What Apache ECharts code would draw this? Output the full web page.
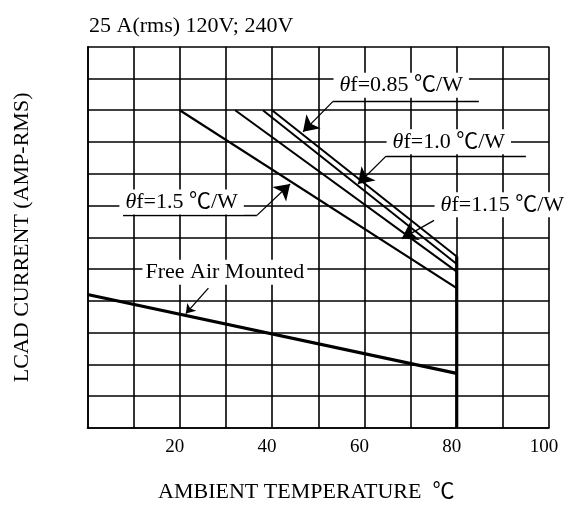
<!DOCTYPE html>
<html><head><meta charset="utf-8">
<script src="https://cdn.jsdelivr.net/npm/echarts@6/dist/echarts.min.js"></script>
<style>html,body{margin:0;padding:0;background:#fff}#c{width:576px;height:508px}</style>
</head><body><div id="c"></div>
<script>
// ---- data ----
const titleText = '25 A(rms) 120V; 240V';
const xName = 'AMBIENT TEMPERATURE  \u2103';
const yName = 'LCAD CURRENT (AMP-RMS)';
const xTicks = [20, 40, 60, 80, 100];
const curve085 = [[40, 25], [80, 13.5]];
const curve100 = [[38, 25], [80, 12.9]];
const curve115 = [[32, 25], [80, 12.3]];
const curve150 = [[20, 25], [80, 11.0]];
const freeAir  = [[0, 10.5], [80, 4.3]];
const cutoff   = [[80, 13.5], [80, 0]];

// annotations (data units)
const annTexts   = ['0.85', '1.0', '1.15', '1.5'];
const annAnchors = [[53.2, 26.97], [64.7, 22.52], [75.1, 17.56], [6.8, 17.78]];
const annUnder   = [[[53.2, 25.7], [84.8, 25.7]], [[64.7, 21.39], [95.0, 21.39]], [[75.1, 16.34], [106, 16.34]], [[7.7, 16.73], [36.7, 16.73]]];
const annLeader  = [[[53.2, 25.7], [46.7, 23.3]], [[64.7, 21.39], [58.6, 19.2]], [[75.1, 16.34], [68.1, 14.9]], [[36.7, 16.73], [43.9, 19.2]]];
const freeText   = 'Free Air Mounted';
const freeAnchor = [11.8, 12.26];
const freeLeader = [[26.2, 11.0], [21.3, 9.0]];

// ---- chart ----
const FONT = '"Liberation Serif", "Times New Roman", "Noto Sans CJK SC", serif';
const chart = echarts.init(document.getElementById('c'), null, {renderer: 'canvas'});

function curve(d, w) {
  return {type: 'line', data: d, symbol: 'none', silent: true, animation: false,
    lineStyle: {color: '#000', width: w}, z: 3};
}

const markPts = annTexts.map((t, i) => ({
  coord: annAnchors[i],
  label: {formatter: '{i|\u03b8}{n|f=' + t + ' \u2103/W}', padding: [2, 6, 1, 6]}
}));
markPts.push({coord: freeAnchor, label: {formatter: '{n|' + freeText + '}', padding: [2, 3, 1, 3]}});

const option = {
  backgroundColor: '#fff',
  animation: false,
  title: {text: titleText, left: 84, top: 10,
    textStyle: {fontFamily: FONT, fontSize: 22, fontWeight: 'normal', color: '#000'}},
  grid: {left: 87.5, right: 27, top: 46.7, bottom: 77},
  xAxis: {
    type: 'value', min: 0, max: 100, interval: 10,
    name: xName, nameLocation: 'middle', nameGap: 53,
    nameTextStyle: {fontFamily: FONT, fontSize: 22, color: '#000', padding: [0, 24, 0, 0]},
    axisLine: {show: true, lineStyle: {color: '#000', width: 1.6}},
    axisTick: {show: false},
    axisLabel: {margin: 10, padding: [0, 10, 0, 0], fontFamily: FONT, fontSize: 19, color: '#000',
      formatter: v => xTicks.indexOf(v) >= 0 ? String(v) : ''},
    splitLine: {show: true, lineStyle: {color: '#000', width: 1.6}}
  },
  yAxis: {
    type: 'value', min: 0, max: 30, interval: 2.5,
    name: yName, nameLocation: 'middle', nameGap: 54,
    nameTextStyle: {fontFamily: FONT, fontSize: 22, color: '#000', padding: [0, 0, 0, 0]},
    axisLine: {show: true, lineStyle: {color: '#000', width: 1.6}},
    axisTick: {show: false},
    axisLabel: {show: false},
    splitLine: {show: true, lineStyle: {color: '#000', width: 1.6}}
  },
  series: [
    curve(curve085, 2), curve(curve100, 2), curve(curve115, 2), curve(curve150, 2.2),
    curve(freeAir, 3.2), curve(cutoff, 3.2),
    {
      type: 'line', data: [], clip: false, silent: true, animation: false, z: 5,
      markLine: {
        silent: true, animation: false, symbol: ['none', 'none'],
        label: {show: false},
        lineStyle: {color: '#000', width: 1.3, type: 'solid'},
        data: annUnder.map(s => [{coord: s[0]}, {coord: s[1]}])
      }
    },
    {
      type: 'line', data: [], clip: false, silent: true, animation: false, z: 6,
      markLine: {
        silent: true, animation: false, symbol: ['none', 'arrow'], symbolSize: 15,
        label: {show: false},
        lineStyle: {color: '#000', width: 1.3, type: 'solid'},
        itemStyle: {color: '#000'},
        data: annLeader.map(s => [{coord: s[0]}, {coord: s[1]}])
          .concat([[{coord: freeLeader[0]}, {coord: freeLeader[1], symbolSize: 9}]])
      }
    },
    {
      type: 'line', data: [], clip: false, silent: true, animation: false, z: 7,
      markPoint: {
        silent: true, animation: false, symbol: 'rect', symbolSize: 1,
        itemStyle: {color: 'rgba(0,0,0,0)'},
        label: {show: true, position: 'right', distance: 0, backgroundColor: '#fff',
          color: '#000',
          rich: {
            i: {fontFamily: FONT, fontStyle: 'italic', fontSize: 22, color: '#000'},
            n: {fontFamily: FONT, fontSize: 22, color: '#000'}
          }},
        data: markPts
      }
    }
  ]
};
chart.setOption(option);
</script></body></html>
